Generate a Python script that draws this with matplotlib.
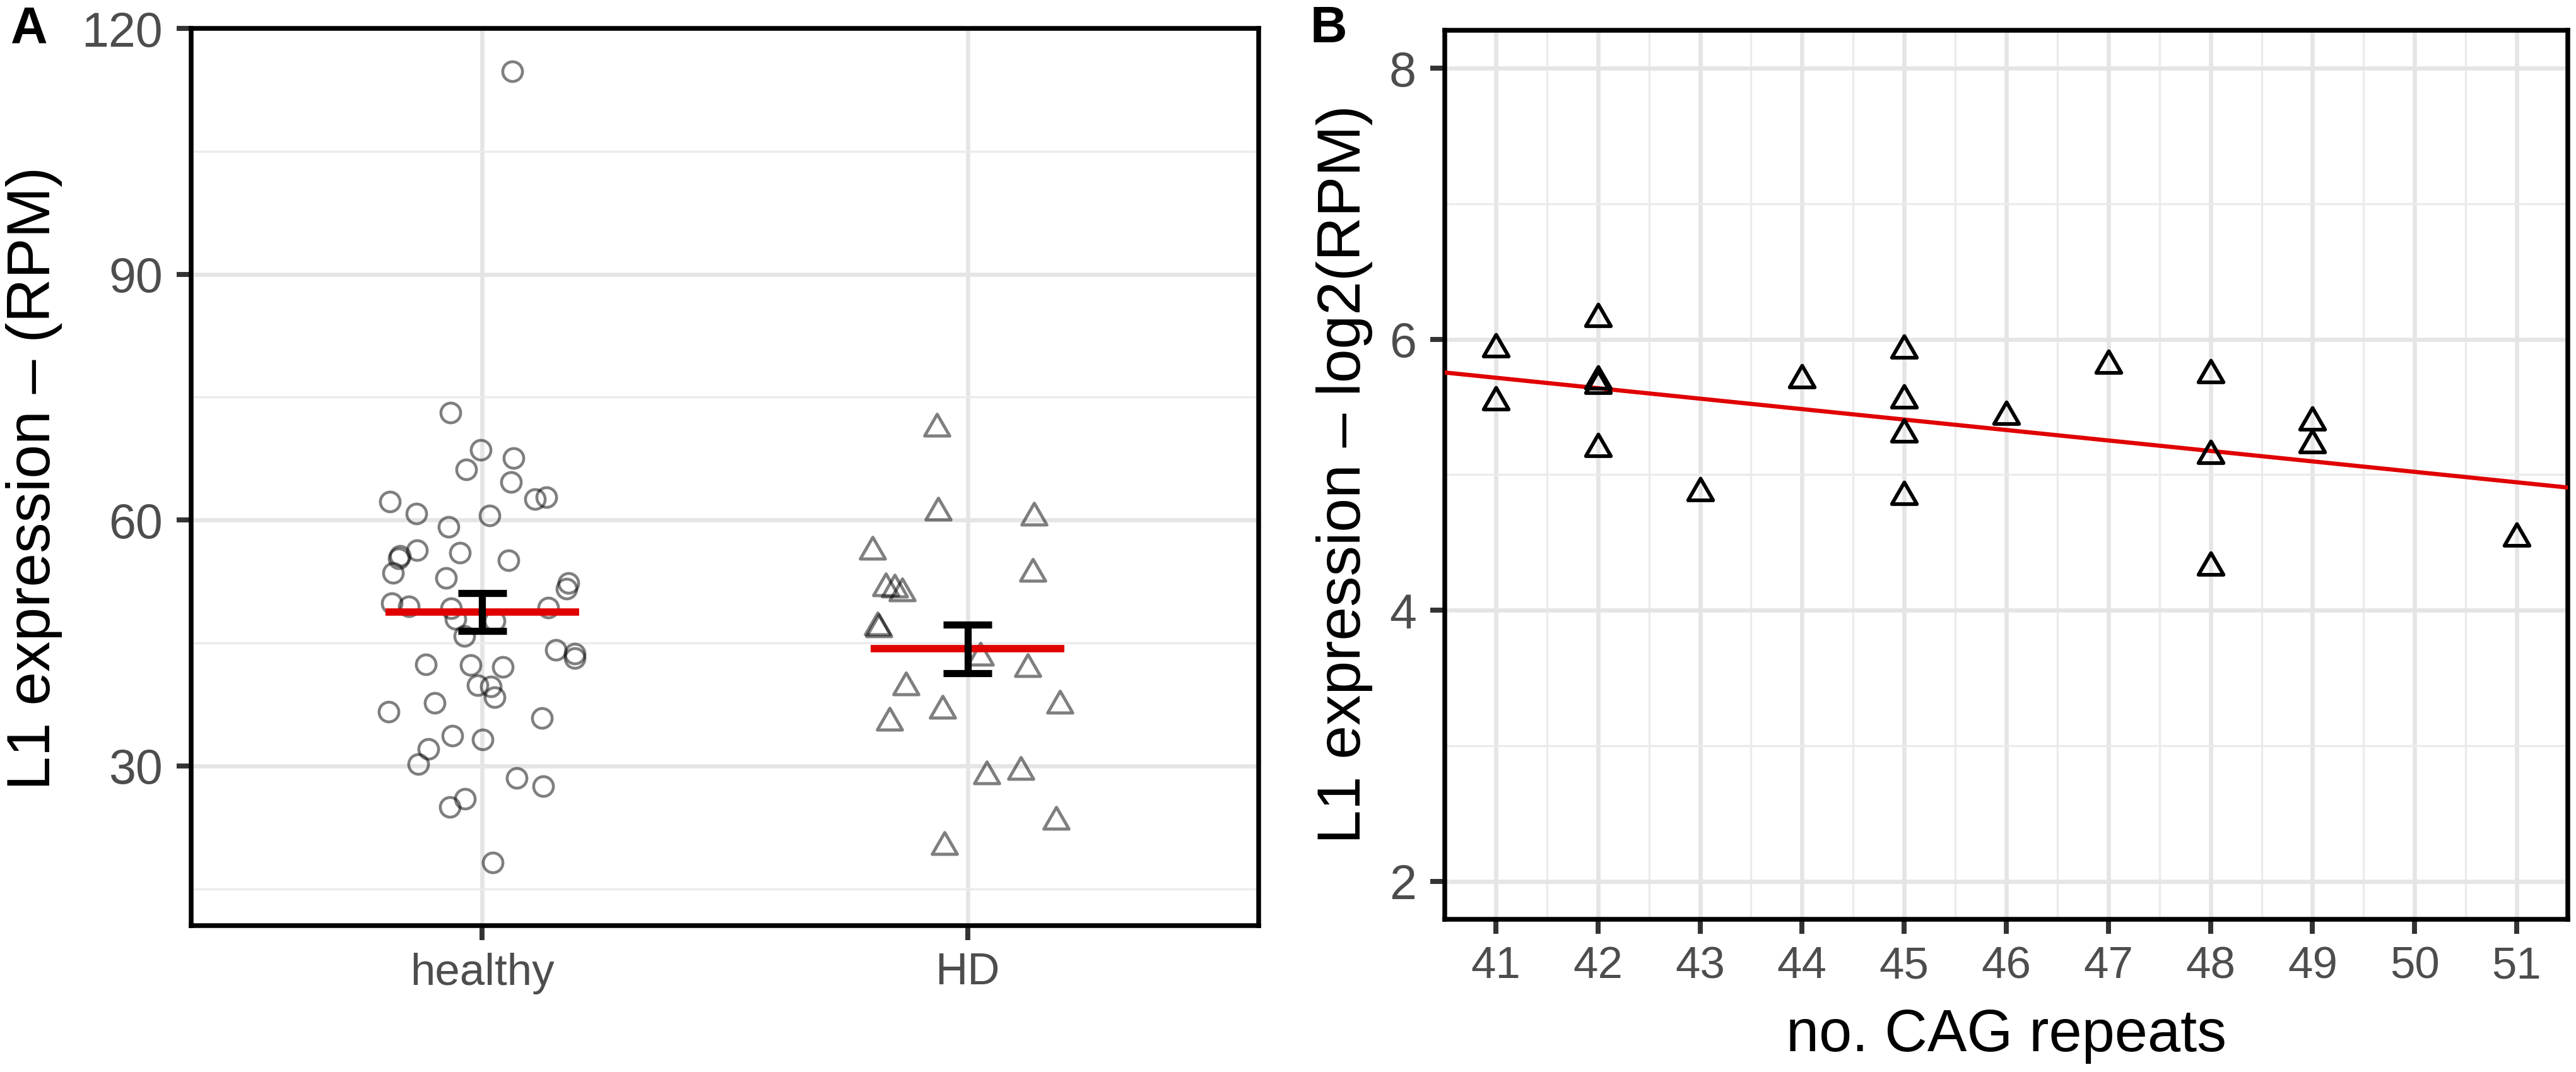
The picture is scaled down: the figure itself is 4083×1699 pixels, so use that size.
import numpy as np
import matplotlib
matplotlib.use("Agg")
import matplotlib.pyplot as plt
from matplotlib.path import Path

plt.rcParams['font.family'] = ['Liberation Sans', 'DejaVu Sans']

# ---------------- data ----------------
groups = ["healthy", "HD"]

healthy_rpm = [114.8, 73.1, 68.56, 67.59, 66.21, 64.67, 62.54, 62.75, 62.28, 60.77,
               60.56, 59.15, 56.31, 56.0, 55.6, 55.3, 55.1, 53.52, 52.92, 52.28,
               51.64, 49.85, 49.46, 49.2, 49.33, 47.92, 47.67, 45.87, 44.15, 43.69,
               43.18, 42.41, 42.33, 42.1, 39.85, 39.67, 38.36, 37.67, 36.59, 35.87,
               33.69, 33.18, 32.03, 30.2, 28.5, 27.5, 25.95, 24.95, 18.2]
healthy_jitter = [0.062, -0.066, -0.003, 0.064, -0.033, 0.059, 0.108, 0.132, -0.190, -0.136,
                  0.015, -0.070, -0.135, -0.046, -0.169, -0.172, 0.054, -0.184, -0.075, 0.177,
                  0.174, -0.186, -0.152, -0.064, 0.136, -0.055, 0.026, -0.037, 0.151, 0.190,
                  0.191, -0.116, -0.024, 0.042, -0.010, 0.017, 0.026, -0.098, -0.193, 0.123,
                  -0.062, 0.001, -0.111, -0.132, 0.071, 0.125, -0.036, -0.067, 0.021]

hd_rpm = [71.2, 60.9, 60.33, 56.13, 53.49, 51.72, 51.54, 51.1, 46.95, 46.7,
          43.23, 41.85, 39.64, 37.41, 36.77, 35.26, 29.28, 28.77, 23.2, 20.1]
hd_jitter = [-0.063, -0.060, 0.137, -0.196, 0.135, -0.169, -0.150, -0.135, -0.185, -0.183,
             0.026, 0.124, -0.127, 0.191, -0.051, -0.161, 0.110, 0.039, 0.183, -0.047]

cag_repeats = [41, 41, 42, 42, 42, 42, 43, 44, 45, 45, 45, 45, 46, 47, 48, 48, 48, 49, 49, 51]
l1_log2 = [5.93, 5.54, 6.15, 5.69, 5.66, 5.195, 4.865, 5.70, 5.92, 5.55, 5.30, 4.84,
           5.43, 5.81, 5.74, 5.14, 4.32, 5.39, 5.22, 4.53]

yticks_A = [30, 60, 90, 120]
yminor_A = [15, 45, 75, 105]
xticks_B = list(range(41, 52))
yticks_B = [2, 4, 6, 8]
yminor_B = [3, 5, 7]

# ---------------- style ----------------
W, H, DPI = 4083, 1699, 300
fig = plt.figure(figsize=(W / DPI, H / DPI), dpi=DPI)
fig.patch.set_facecolor('white')

def fx(px):
    return px / W

def fy(py):
    return 1 - py / H

axA = fig.add_axes([fx(303), fy(1467), fx(1995 - 303), (1467 - 45) / H])
axB = fig.add_axes([fx(2290), fy(1457), fx(4070 - 2290), (1457 - 48) / H])

tri = Path([(0, 1), (-0.8660254, -0.5), (0.8660254, -0.5), (0, 1)],
           [Path.MOVETO, Path.LINETO, Path.LINETO, Path.CLOSEPOLY])

TICKC = '#333333'
LABC = '#4D4D4D'
RED = '#E00000'

def style(ax, xsize, ysize):
    for s in ax.spines.values():
        s.set_linewidth(1.8)
        s.set_color('black')
    ax.set_axisbelow(True)
    ax.grid(which='major', color='#E5E5E5', linewidth=1.6)
    ax.grid(which='minor', color='#EBEBEB', linewidth=0.8)
    ax.tick_params(which='major', length=5.6, width=1.9, color=TICKC, labelcolor=LABC)
    ax.tick_params(which='minor', length=0)
    ax.tick_params(axis='x', labelsize=xsize, pad=4.6)
    ax.tick_params(axis='y', labelsize=ysize, pad=5.2)

# ---------------- panel A ----------------
style(axA, 17, 18.5)
axA.set_xlim(0.4, 2.6)
axA.set_ylim(10.5, 120)
axA.set_xticks([1, 2])
axA.set_xticklabels(groups)
axA.set_yticks(yticks_A)
axA.set_yticks(yminor_A, minor=True)

xh = 1 + np.array(healthy_jitter)
xd = 2 + np.array(hd_jitter)
axA.plot(xh, healthy_rpm, linestyle='none', marker='o', markersize=7.5,
         markerfacecolor='none', markeredgecolor='black', markeredgewidth=1.1, alpha=0.5)
axA.plot(xd, hd_rpm, linestyle='none', marker=tri, markersize=11,
         markerfacecolor='none', markeredgecolor='black', markeredgewidth=1.2, alpha=0.5)

for i, vals in enumerate([healthy_rpm, hd_rpm], start=1):
    v = np.array(vals)
    m = v.mean()
    se = v.std(ddof=1) / np.sqrt(len(v))
    axA.hlines(m, i - 0.2, i + 0.2, color=RED, linewidth=2.8, zorder=4)
    axA.vlines(i, m - se, m + se, color='black', linewidth=2.7, zorder=5)
    axA.hlines([m - se, m + se], i - 0.05, i + 0.05, color='black', linewidth=2.7, zorder=5)

# ---------------- panel B ----------------
style(axB, 17, 18.5)
axB.set_xlim(40.5, 51.5)
axB.set_ylim(1.72, 8.28)
axB.set_xticks(xticks_B)
axB.set_xticks([t + 0.5 for t in xticks_B[:-1]], minor=True)
axB.set_yticks(yticks_B)
axB.set_yticks(yminor_B, minor=True)

slope, intercept = np.polyfit(cag_repeats, l1_log2, 1)
xl = np.array(axB.get_xlim())
axB.plot(xl, intercept + slope * xl, color=RED, linewidth=1.6, zorder=3)
axB.plot(cag_repeats, l1_log2, linestyle='none', marker=tri, markersize=11,
         markerfacecolor='none', markeredgecolor='black', markeredgewidth=1.4, zorder=4)

# ---------------- text ----------------
fig.text(fx(17), fy(67), 'A', fontsize=19.5, fontweight='bold', ha='left', va='baseline')
fig.text(fx(2077), fy(67), 'B', fontsize=19.5, fontweight='bold', ha='left', va='baseline')
fig.text(fx(99), fy(758), 'L1 expression – (RPM)', rotation=90, ha='right', va='center',
         fontsize=23.2, color='black')
fig.text(fx(2176), fy(752), 'L1 expression – log2(RPM)', rotation=90, ha='right', va='center',
         fontsize=23.2, color='black')
fig.text(fx(3180), fy(1666), 'no. CAG repeats', ha='center', va='baseline',
         fontsize=22.5, color='black')

fig.savefig('out.png', dpi=DPI, facecolor='white')
